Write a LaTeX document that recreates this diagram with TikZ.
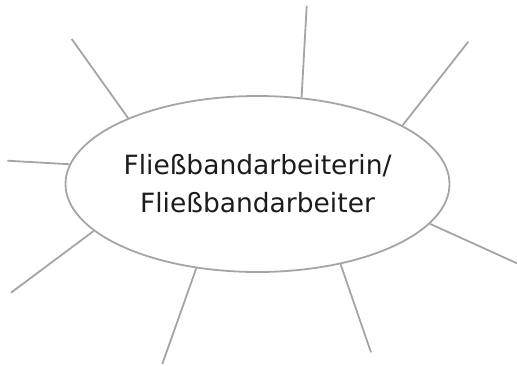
\documentclass[tikz,border=0pt]{standalone}
\usepackage{fontspec}
\setmainfont{DejaVu Sans}
\usetikzlibrary{shapes.geometric}
\definecolor{grauchen}{RGB}{165,165,165}
\definecolor{schwarzlich}{RGB}{30,27,28}
\tikzset{strahl/.style={grauchen, line width=1.8pt}}

\begin{document}
\begin{tikzpicture}[x=1pt,y=-1pt]
	\useasboundingbox (0,0) rectangle (517,365);
	% ellipse in the middle
	\node [ellipse, draw=grauchen, line width=1.8pt, inner sep=0pt, minimum width=384pt, minimum height=176pt, align=center, text=schwarzlich, font=\fontsize{26.5}{38}\selectfont] (mitte) at (257.5,184) {Flie\ss bandarbeiterin/\\Flie\ss bandarbeiter};
	% outer ends of the rays
	\coordinate (s1) at (306.7,6);
	\coordinate (s2) at (468.3,41.7);
	\coordinate (s3) at (517,263.3);
	\coordinate (s4) at (371,352.3);
	\coordinate (s5) at (162.3,364);
	\coordinate (s6) at (11,292.7);
	\coordinate (s7) at (7.3,160.7);
	\coordinate (s8) at (71.7,39);
	%rays
	\draw [strahl] (mitte.63) -- (s1);
	\draw [strahl] (mitte.22.2) -- (s2);
	\draw [strahl] (mitte.-13.8) -- (s3);
	\draw [strahl] (mitte.-44.7) -- (s4);
	\draw [strahl] (mitte.234.2) -- (s5);
	\draw [strahl] (mitte.196.9) -- (s6);
	\draw [strahl] (mitte.174.2) -- (s7);
	\draw [strahl] (mitte.153.1) -- (s8);
\end{tikzpicture}
\end{document}
